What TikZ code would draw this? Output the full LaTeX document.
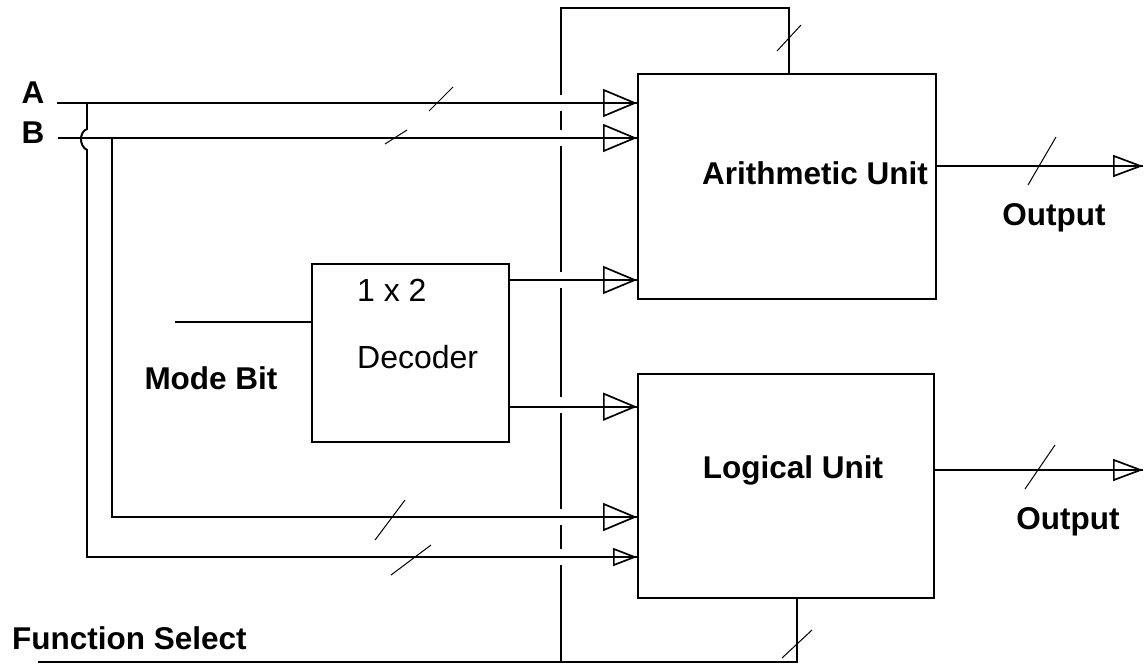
\documentclass[tikz,border=0pt]{standalone}
\usepackage{fontspec}
\setmainfont{Liberation Sans}
\usetikzlibrary{arrows.meta,positioning}
\newcommand{\busmark}[4]{\draw[busmark] (#1-#3,#2+#4) -- (#1+#3,#2-#4);}

\begin{document}
\begin{tikzpicture}[x=1pt,y=-1pt,line width=1.7pt,
    unit/.style={draw,anchor=north west,inner sep=0pt},
    lbl/.style={font=\fontsize{31.5}{36}\selectfont\bfseries},
    dlbl/.style={font=\fontsize{32}{36}\selectfont,anchor=west},
    feed/.style={postaction={draw,-{Triangle[open,length=34pt,width=28pt]}}},
    feedsm/.style={postaction={draw,-{Triangle[open,length=24pt,width=18pt]}}},
    feedout/.style={postaction={draw,-{Triangle[open,length=30pt,width=22pt]}}},
    busmark/.style={line width=1pt}
  ]
    \useasboundingbox (0,0) rectangle (1146,664);
    % blocks
    \node[unit,minimum width=298pt,minimum height=225pt] (arith) at (637,73) {};
    \node[unit,minimum width=296pt,minimum height=224pt] (logic) at (637,373) {};
    \node[unit,minimum width=197pt,minimum height=178pt] (dec) at (311,263) {};
    \node[lbl] (arithtxt) at (815,173) {Arithmetic Unit};
    \node[lbl] (logictxt) at (793,470) {Logical Unit};
    \node[dlbl] (dectop) at (353,290) {1 x 2};
    \node[dlbl] (decbot) at (353,357) {Decoder};
    \node[lbl] (mode) at (211,378) {Mode Bit};
    \node[lbl] (ina) at (33,93) {A};
    \node[lbl] (inb) at (33,133) {B};
    \node[lbl,anchor=west] (fsel) at (8,638) {Function Select};
    \node[lbl] (out1) at (1054,218) {Output};
    \node[lbl] (out2) at (1068,522) {Output};
    % wire ends
    \coordinate (a0) at (57,103);
    \coordinate (b0) at (58,138);
    \coordinate (atap) at (87,103);
    \coordinate (btap) at (112,138);
    \coordinate (m0) at (175,322);
    \coordinate (f0) at (38,662);
    \coordinate (fup) at (561,662);
    \coordinate (ftop) at (561,8);
    \coordinate (asel) at ([xshift=152pt]arith.north west);
    \coordinate (lsel) at ([xshift=160pt]logic.south west);
    \coordinate (o1) at (1143,166);
    \coordinate (o2) at (1143,470);
    % function select
    \draw (fup) -- (ftop) -- (ftop -| asel) -- (asel);
    \foreach \yy in {103,138,280,405,517,557}
      \fill[white] (554,\yy-8) rectangle (568,\yy+8);
    \draw (f0) -- (lsel |- f0) -- (lsel);
    % inputs
    \draw[feed] (a0) -- (a0 -| arith.west);
    \draw[feed] (b0) -- (b0 -| arith.west);
    \draw[feedsm] (atap) -- (87,129) .. controls (79,132) and (79,146) .. (87,150)
      -- (87,557) -- (arith.west |- 0,557);
    \draw[feed] (btap) -- (112,517) -- (arith.west |- 0,517);
    % decoder
    \draw (m0) -- (m0 -| dec.west);
    \draw[feed] ([yshift=-17pt]dec.north east) -- ([yshift=-17pt]dec.north east -| arith.west);
    \draw[feed] ([yshift=36pt]dec.south east) -- ([yshift=36pt]dec.south east -| arith.west);
    % outputs
    \draw[feedout] (arith.east |- o1) -- (o1);
    \draw[feedout] (logic.east |- o2) -- (o2);
    % bus width marks
    \busmark{441}{99}{12}{12}
    \busmark{396}{137}{11}{7}
    \busmark{789}{38}{12}{13}
    \busmark{1042}{161}{14}{24}
    \busmark{1040}{467}{15}{22}
    \busmark{390}{520}{15}{20}
    \busmark{411}{560}{20}{15}
    \busmark{797}{644}{15}{14}
  \end{tikzpicture}
\end{document}
